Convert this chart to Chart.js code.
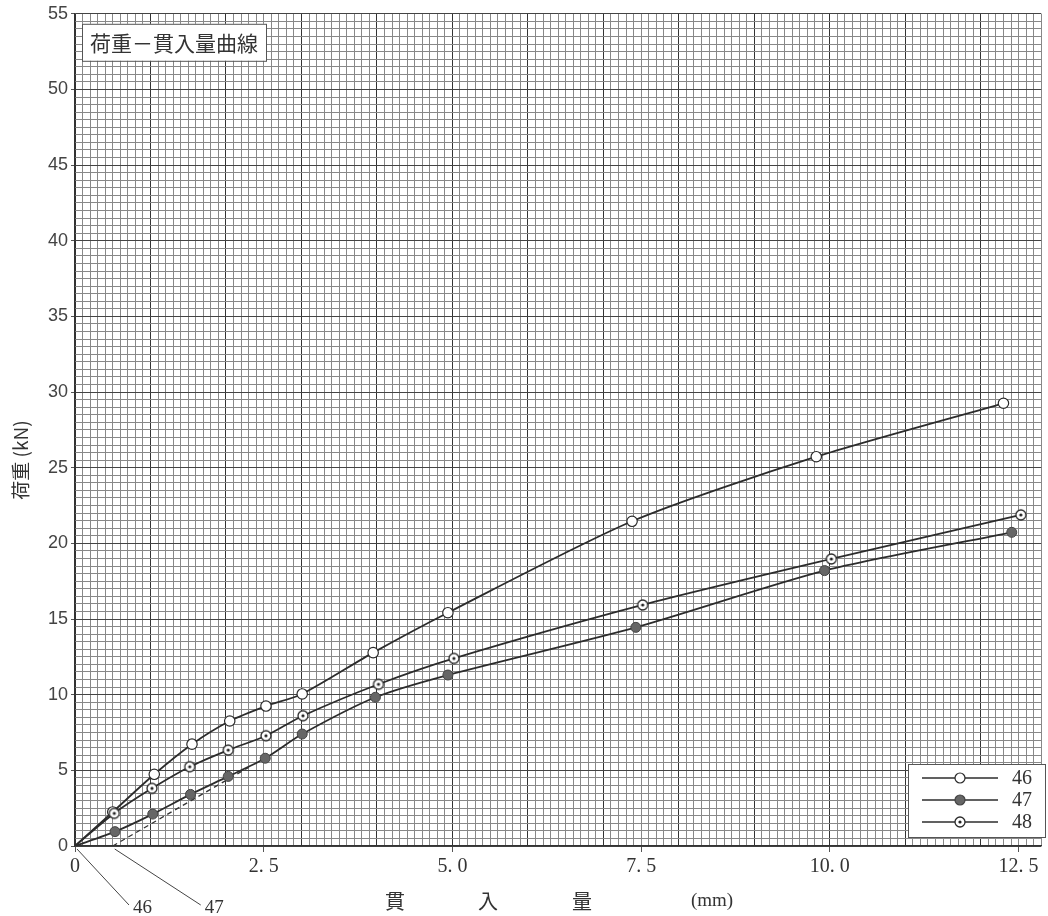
<!DOCTYPE html>
<html><head><meta charset="utf-8">
<script src="https://cdn.jsdelivr.net/npm/chart.js@4.4.0/dist/chart.umd.min.js"></script>
<style>html,body{margin:0;padding:0;background:#fff}canvas{display:block}</style>
</head><body>
<canvas id="c" width="1048" height="916"></canvas>
<script>
// ---- data (penetration mm, load kN) ----
const seriesNames = ['46', '47', '48'];
const x46 = [0, 0.5, 1.05, 1.55, 2.05, 2.53, 3.01, 3.95, 4.94, 7.38, 9.82, 12.30];
const y46 = [0, 2.25, 4.74, 6.73, 8.26, 9.25, 10.05, 12.78, 15.42, 21.46, 25.73, 29.26];
const x47 = [0, 0.53, 1.03, 1.53, 2.03, 2.52, 3.01, 3.98, 4.94, 7.43, 9.93, 12.41];
const y47 = [0, 0.95, 2.11, 3.41, 4.60, 5.80, 7.40, 9.83, 11.30, 14.45, 18.20, 20.73];
const x48 = [0, 0.52, 1.02, 1.52, 2.03, 2.53, 3.02, 4.02, 5.02, 7.52, 10.02, 12.53];
const y48 = [0, 2.16, 3.81, 5.24, 6.34, 7.29, 8.61, 10.69, 12.40, 15.93, 18.97, 21.88];
const dashX = [0.5, 2.3];   // origin-correction line for 47
const dashY = [0, 5.2];
const xTickValues = [0, 2.5, 5.0, 7.5, 10.0, 12.5];
const xTickLabels = ['0', '2. 5', '5. 0', '7. 5', '10. 0', '12. 5'];
const yTickValues = [0, 5, 10, 15, 20, 25, 30, 35, 40, 45, 50, 55];
const chartTitle = '荷重－貫入量曲線';
const xTitleParts = ['貫', '入', '量', '(mm)'];
const yTitle = '荷重 (kN)';
const annotLabels = ['46', '47'];
const annotX = [0, 0.5];

const pts = (xs, ys) => xs.map((x, i) => ({x, y: ys[i]}));
const near = (v, arr) => arr.findIndex(a => Math.abs(a - v) < 1e-6);

function dotCircle(r) {
  const c = document.createElement('canvas');
  const s = 2 * r + 4; c.width = c.height = s;
  const g = c.getContext('2d');
  g.beginPath(); g.arc(s/2, s/2, r, 0, Math.PI*2);
  g.fillStyle = '#fff'; g.fill();
  g.lineWidth = 1.3; g.strokeStyle = '#2a2a2a'; g.stroke();
  g.beginPath(); g.arc(s/2, s/2, 1.6, 0, Math.PI*2);
  g.fillStyle = '#222'; g.fill();
  return c;
}
const dotImg = dotCircle(5);
const LINE = '#2c2c2c';
const firstHidden = (n, r) => Array.from({length: n}, (_, i) => i === 0 ? 0 : r);

const datasets = [
  {label: '46', data: pts(x46, y46), showLine: true, borderColor: LINE, borderWidth: 1.8,
   pointStyle: 'circle', pointRadius: firstHidden(x46.length, 5.2), pointBackgroundColor: '#fff',
   pointBorderColor: '#2a2a2a', pointBorderWidth: 1.2, tension: 0.25, order: 3},
  {label: '47', data: pts(x47, y47), showLine: true, borderColor: LINE, borderWidth: 1.8,
   pointStyle: 'circle', pointRadius: firstHidden(x47.length, 5), pointBackgroundColor: '#666',
   pointBorderColor: '#444', pointBorderWidth: 1, tension: 0.25, order: 2},
  {label: '48', data: pts(x48, y48), showLine: true, borderColor: LINE, borderWidth: 1.8,
   pointStyle: dotImg, pointRadius: firstHidden(x48.length, 5), tension: 0.25, order: 1},
  {label: 'dash', data: pts(dashX, dashY), showLine: true, borderColor: '#333', borderWidth: 1.3,
   borderDash: [5, 4], pointRadius: 0, tension: 0, order: 4}
];

const decor = {
  id: 'decor',
  afterDatasetsDraw(chart) {
    const {ctx, chartArea: a} = chart;
    ctx.save();
    // title box
    ctx.font = '21px "Noto Sans CJK JP"';
    const tw = ctx.measureText(chartTitle).width;
    const bx = a.left + 7, by = a.top + 10, bw = tw + 16, bh = 37;
    ctx.fillStyle = '#fff'; ctx.fillRect(bx, by, bw, bh);
    ctx.strokeStyle = '#555'; ctx.lineWidth = 1; ctx.strokeRect(bx + 0.5, by + 0.5, bw, bh);
    ctx.fillStyle = '#333'; ctx.textBaseline = 'middle'; ctx.textAlign = 'left';
    ctx.fillText(chartTitle, bx + 8, by + bh/2 + 1);

    // legend box
    const lx = 908, ly = 764, lw = 138, lh = 73;
    ctx.fillStyle = '#fff'; ctx.fillRect(lx, ly, lw, lh);
    ctx.strokeStyle = '#555'; ctx.strokeRect(lx + 0.5, ly + 0.5, lw - 1, lh);
    seriesNames.forEach((nm, i) => {
      const ds = chart.data.datasets[i];
      const yy = ly + 14 + i * 22;
      ctx.strokeStyle = LINE; ctx.lineWidth = 1.6;
      ctx.beginPath(); ctx.moveTo(922, yy); ctx.lineTo(998, yy); ctx.stroke();
      if (ds.pointStyle === 'circle') {
        ctx.beginPath(); ctx.arc(960, yy, 5, 0, Math.PI*2);
        ctx.fillStyle = ds.pointBackgroundColor; ctx.fill();
        ctx.lineWidth = 1.2; ctx.strokeStyle = ds.pointBorderColor; ctx.stroke();
      } else {
        ctx.drawImage(ds.pointStyle, 960 - ds.pointStyle.width/2, yy - ds.pointStyle.height/2);
      }
      ctx.fillStyle = '#333'; ctx.font = '20px "Liberation Serif"';
      ctx.textAlign = 'left'; ctx.textBaseline = 'middle';
      ctx.fillText(nm, 1012, yy + 1);
    });
    ctx.restore();
  },
  afterDraw(chart) {
    const {ctx, scales: {x, y}} = chart;
    ctx.save();
    // x title
    ctx.fillStyle = '#333'; ctx.textBaseline = 'middle'; ctx.textAlign = 'center';
    const pos = [395, 488, 582, 712];
    xTitleParts.forEach((t, i) => {
      ctx.font = i === 3 ? '19px "Liberation Serif"' : '20px "Noto Sans CJK JP"';
      ctx.fillText(t, pos[i], 901);
    });
    // y title
    ctx.translate(21, 460); ctx.rotate(-Math.PI/2);
    ctx.font = '19px "Noto Sans CJK JP"';
    ctx.fillText(yTitle, 0, 0);
    ctx.restore();
    // annotation leaders
    ctx.save();
    ctx.strokeStyle = '#444'; ctx.lineWidth = 1;
    ctx.fillStyle = '#333'; ctx.font = '19px "Liberation Serif"';
    ctx.textAlign = 'left'; ctx.textBaseline = 'middle';
    annotLabels.forEach((lab, i) => {
      const px = x.getPixelForValue(annotX[i]) + 2, py = y.getPixelForValue(0) + 3;
      const ex = px + (i === 0 ? 52 : 86), ey = 905;
      ctx.beginPath(); ctx.moveTo(px, py); ctx.lineTo(ex, ey); ctx.stroke();
      ctx.fillText(lab, ex + 4, 908);
    });
    ctx.restore();
  }
};

new Chart(document.getElementById('c'), {
  type: 'scatter',
  data: {datasets},
  options: {
    responsive: false, animation: false, devicePixelRatio: 1,
    layout: {padding: {top: 13, right: 5, left: 0, bottom: 0}},
    plugins: {legend: {display: false}, tooltip: {enabled: false}},
    scales: {
      x: {
        type: 'linear', min: 0, max: 12.8,
        afterFit: s => { s.height = 70; },
        ticks: {
          stepSize: 0.1, autoSkip: false, maxRotation: 0, padding: 3,
          font: {family: 'Liberation Serif', size: 20}, color: '#333',
          callback: v => { const k = near(v, xTickValues); return k >= 0 ? xTickLabels[k] : ''; }
        },
        grid: {
          lineWidth: 1, tickLength: 6,
          color: c => (Math.abs(c.tick.value - Math.round(c.tick.value)) < 1e-6) ? '#333' : '#888',
          tickColor: c => near(c.tick.value, xTickValues) >= 0 ? '#555' : 'rgba(0,0,0,0)'
        },
        border: {color: '#333', width: 1.2}
      },
      y: {
        type: 'linear', min: 0, max: 55,
        afterFit: s => { s.width = 75; },
        ticks: {
          stepSize: 0.5, autoSkip: false, padding: 3,
          font: {family: 'Liberation Sans', size: 18}, color: '#444',
          callback: v => near(v, yTickValues) >= 0 ? String(Math.round(v)) : ''
        },
        grid: {
          lineWidth: 1, tickLength: 4,
          color: c => near(c.tick.value, yTickValues) >= 0 ? '#444' : '#888',
          tickColor: c => near(c.tick.value, yTickValues) >= 0 ? '#555' : 'rgba(0,0,0,0)'
        },
        border: {color: '#333', width: 1.2}
      }
    }
  },
  plugins: [decor]
});
</script>
</body></html>
